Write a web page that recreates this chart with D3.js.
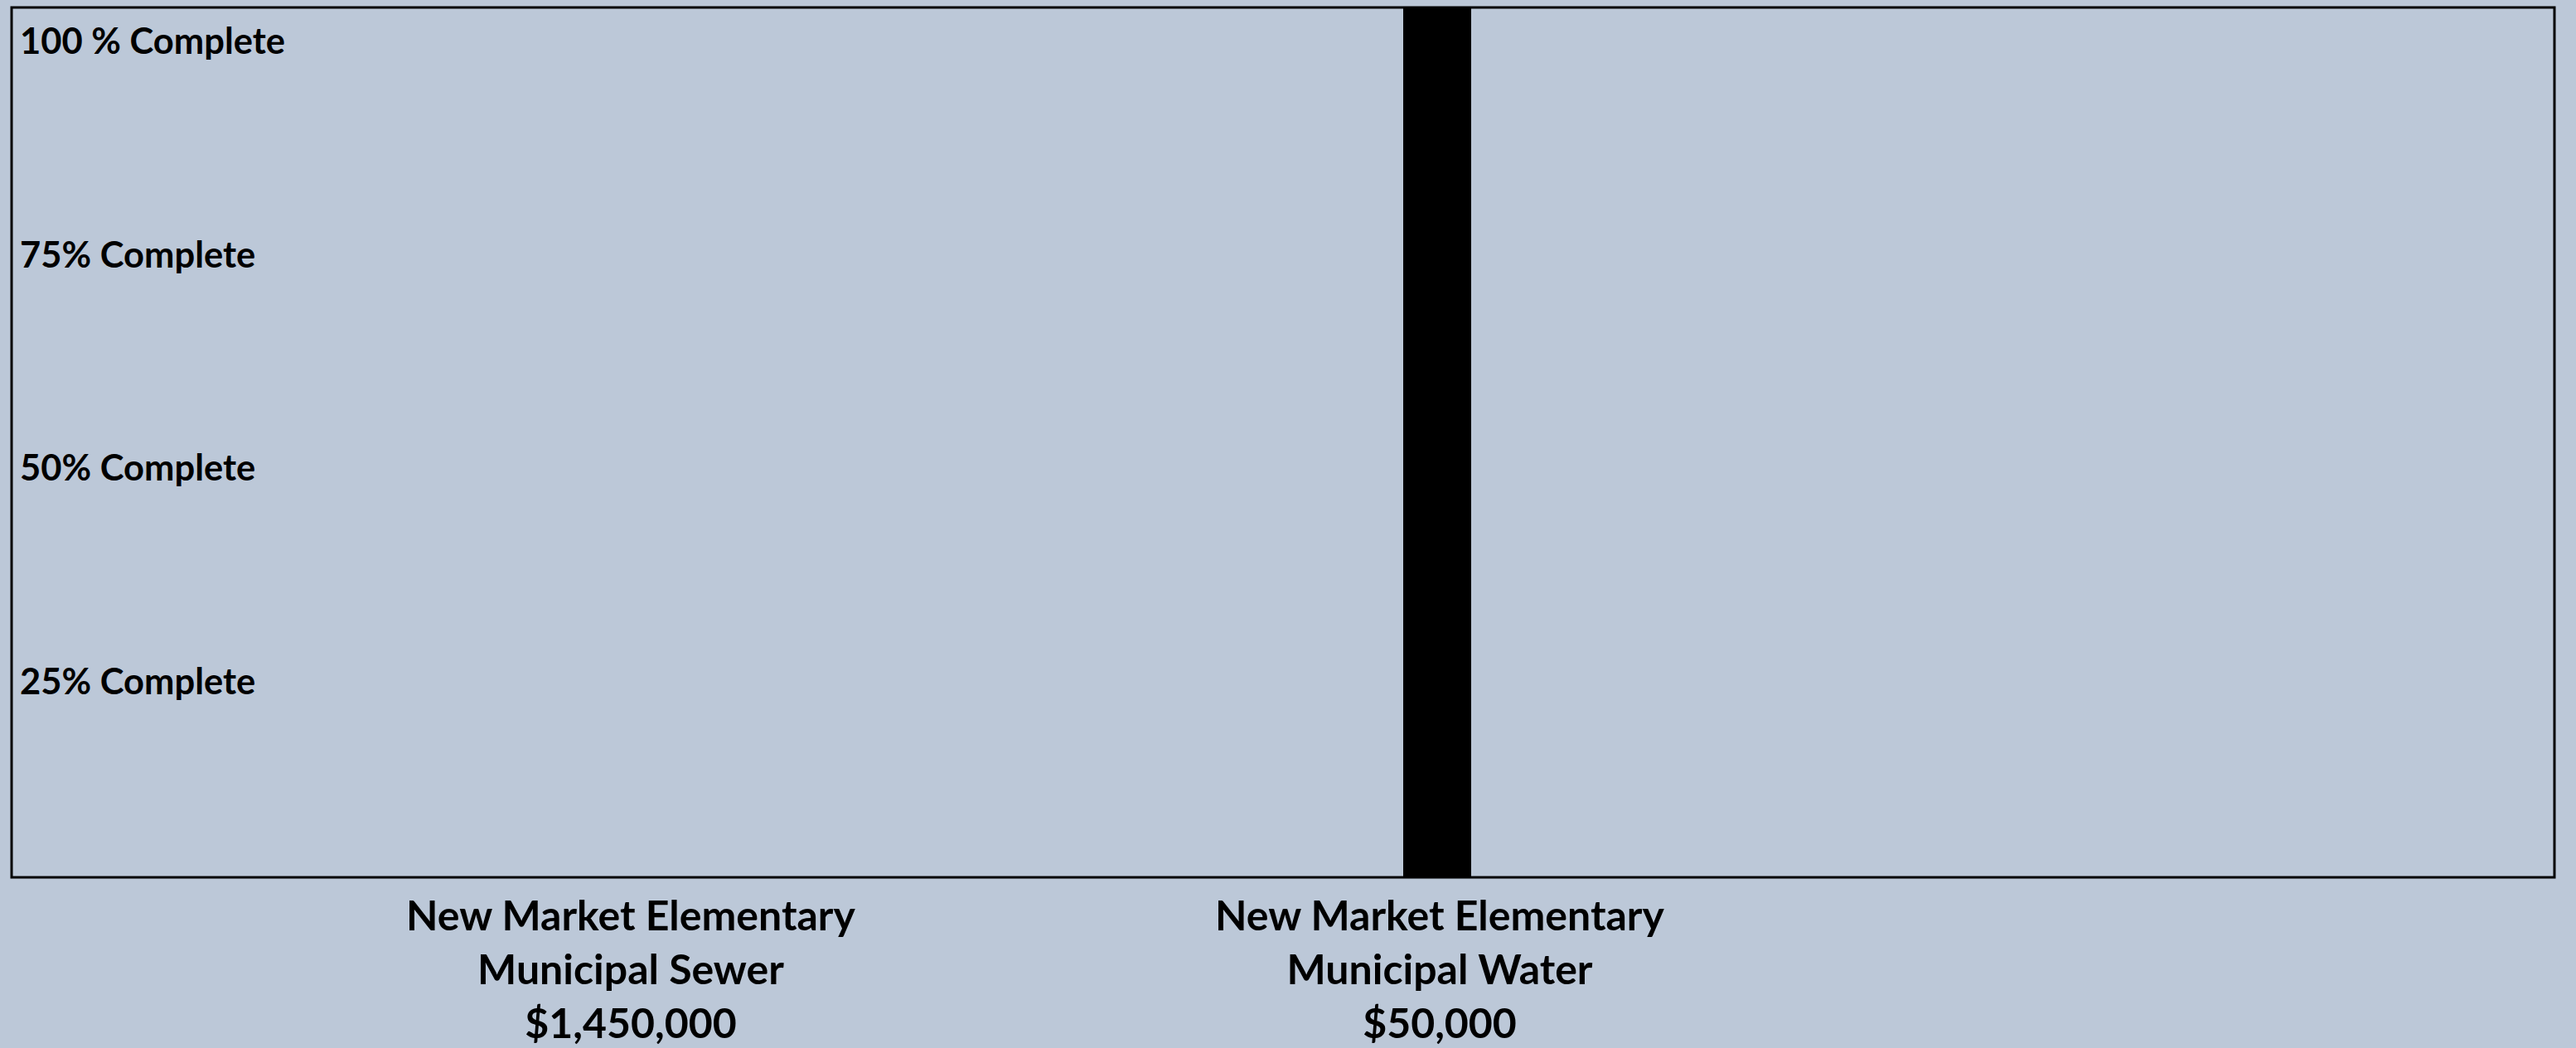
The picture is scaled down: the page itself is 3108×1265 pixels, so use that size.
<!DOCTYPE html>
<html>
<head>
<meta charset="utf-8">
<script src="https://cdn.jsdelivr.net/npm/d3@7"></script>
<style>
  html, body { margin: 0; padding: 0; background: #BCC8D8; }
  svg { display: block; }
  text { font-family: Lato, "Open Sans", sans-serif; font-weight: bold; fill: #000; }
</style>
</head>
<body>
<svg id="chart" width="3108" height="1265"></svg>
<script>
// ---- data ----
const categories = ["Sewer", "Water"];
const categoryLines = [
  ["New Market Elementary", "Municipal Sewer", "$1,450,000"],
  ["New Market Elementary", "Municipal Water", "$50,000"]
];
const percentComplete = [0, 100];
const tickValues = [25, 50, 75, 100];
const tickLabels = ["25% Complete", "50% Complete", "75% Complete", "100 % Complete"];

// ---- layout ----
const W = 3108, H = 1265;
const plot = { left: 14, top: 9, right: 3082, bottom: 1059 };

const svg = d3.select("#chart");

svg.append("rect").attr("x", 0).attr("y", 0).attr("width", W).attr("height", H).attr("fill", "#BCC8D8");

const x = d3.scalePoint().domain(categories).range([761, 1734]);
const y = d3.scaleLinear().domain([0, 100]).range([plot.bottom, plot.top]);
// label placement scale (labels hang a little below each level)
const yLabel = d3.scaleLinear().domain([0, 100]).range([1095, 65]);
const barW = 82;

// bars
svg.append("g").selectAll("rect").data(categories).join("rect")
  .attr("x", d => x(d) - barW / 2)
  .attr("width", barW)
  .attr("y", (d, i) => y(percentComplete[i]))
  .attr("height", (d, i) => y(0) - y(percentComplete[i]))
  .attr("fill", "#000");

// frame
svg.append("rect")
  .attr("x", plot.left).attr("y", plot.top)
  .attr("width", plot.right - plot.left).attr("height", plot.bottom - plot.top)
  .attr("fill", "none").attr("stroke", "#000").attr("stroke-width", 3);

// y "tick" labels inside the plot
svg.append("g").selectAll("text").data(tickValues).join("text")
  .attr("x", 24)
  .attr("y", d => yLabel(d))
  .attr("font-size", 43.5)
  .text((d, i) => tickLabels[i]);

// x category labels
const xl = svg.append("g").selectAll("g").data(categories).join("g")
  .attr("transform", (d, i) => `translate(${x(d) + (i ? 3 : 0)},0)`);
xl.selectAll("text").data((d, i) => categoryLines[i]).join("text")
  .attr("text-anchor", "middle")
  .attr("x", 0)
  .attr("y", (d, j) => 1123 + j * 65)
  .attr("font-size", 50)
  .text(d => d);
</script>
</body>
</html>
